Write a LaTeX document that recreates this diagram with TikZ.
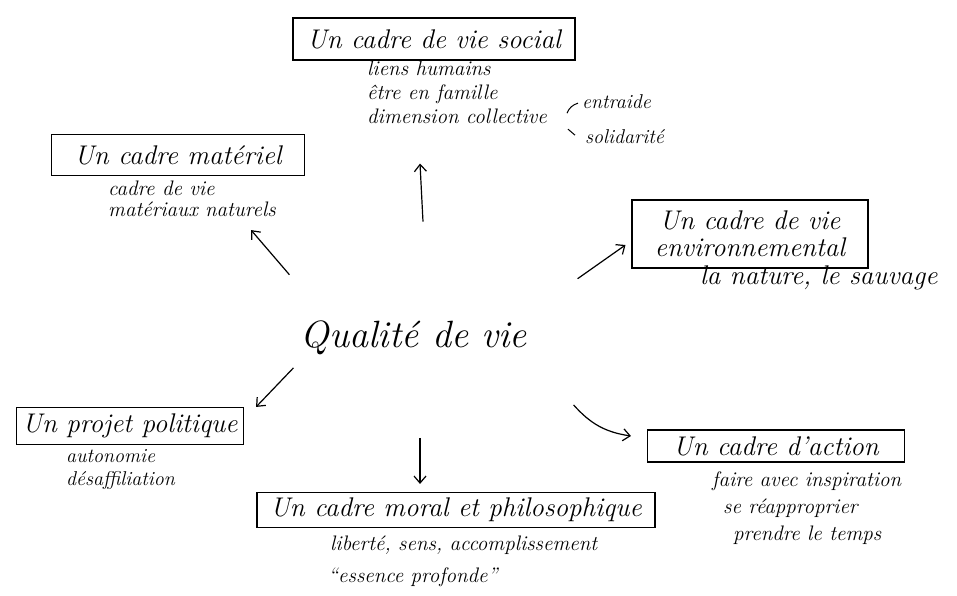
\documentclass[tikz,border=0pt]{standalone}
\usetikzlibrary{calc,arrows.meta}

\newcommand{\cadrefont}{\fontsize{27}{31}\selectfont\itshape}
\newcommand{\remfont}{\fontsize{21}{24}\selectfont\itshape}

\tikzset{
    cadre/.style={draw,line width=1.1pt,inner sep=2pt,align=center,font=\cadrefont},
    rem/.style={align=left,inner sep=0pt,font=\remfont},
    arr/.style={-{Straight Barb[length=7pt,width=12pt]},line width=1.2pt},
}

\begin{document}
\begin{tikzpicture}[x=1pt,y=-1pt]
            \useasboundingbox (0,0) rectangle (957,596);

            \node (qualite) at (414,347)[anchor=base,font=\fontsize{38}{44}\selectfont\itshape]{Qualité de vie};

            \node (social) at (434,39)[cadre,minimum width=282,minimum height=42]{Un cadre de vie social};
            \node (socialrem) at (367,61)[rem,anchor=north west]{liens humains\\être en famille\\dimension collective};
            \node (entraide) at (582,109)[rem,anchor=base west,font=\fontsize{20}{24}\selectfont\itshape]{entraide};
            \node (solidarite) at (585,144)[rem,anchor=base west,font=\fontsize{20}{24}\selectfont\itshape]{solidarité};

            \node (materiel) at (178,155)[cadre,minimum width=253,minimum height=41]{Un cadre matériel};
            \node (materielrem) at (108,181)[rem,anchor=north west,font=\fontsize{21}{21}\selectfont\itshape]{cadre de vie\\matériaux naturels};

            \node (environ) at (750,234)[cadre,minimum width=236,minimum height=68,font=\fontsize{27}{27}\selectfont\itshape]{Un cadre de vie\\environnemental};
            \node (environrem) at (700,284)[rem,anchor=base west,font=\fontsize{27}{30}\selectfont\itshape]{la nature, le sauvage};

            \node (politique) at (130,426)[cadre,minimum width=227,minimum height=37]{Un projet politique};
            \node (politiquerem) at (66,449)[rem,anchor=north west,font=\fontsize{20}{23}\selectfont\itshape]{autonomie\\désaffiliation};

            \node (moral) at (456,510)[cadre,minimum width=398,minimum height=35]{Un cadre moral et philosophique};
            \node (moralrem) at (330,536)[rem,anchor=north west,font=\fontsize{21}{32}\selectfont\itshape]{liberté, sens, accomplissement\\\hspace*{-2pt}``essence profonde''};

            \node (action) at (776,446)[cadre,minimum width=257,minimum height=32]{Un cadre d'action};
            \node (actionrem) at (712,472)[rem,anchor=north west,font=\fontsize{21}{27}\selectfont\itshape]{faire avec inspiration\\\hspace*{11pt}se réapproprier\\\hspace*{21pt}prendre le temps};

            % fleches depuis le centre
            \draw[arr] ($(qualite.north)+(9,-95)$)--($(social.south)+(-14,103)$);
            \draw[arr] ($(qualite.north west)+(-8,-42)$)--($(materiel.south east)+(-54,54)$);
            \draw[arr] ($(qualite.north east)+(47,-38)$)--($(environ.west)+(-6,11)$);
            \draw[arr] ($(qualite.south west)+(-4,10)$)--($(politique.north east)+(12,0)$);
            \draw[arr] ($(qualite.south)+(6,80)$)--($(moral.north)+(-36,-8)$);
            \draw[arr] ($(qualite.south east)+(43,47)$) to[bend right=20] ($(action.west)+(-16,-10)$);

            \draw[line width=1pt] ($(entraide.west)+(-15,11)$) to[bend left=25] ($(entraide.west)+(-4,1)$);
            \draw[line width=1pt] ($(solidarite.west)+(-17,-8)$)--($(solidarite.west)+(-10,-2)$);
\end{tikzpicture}
\end{document}
